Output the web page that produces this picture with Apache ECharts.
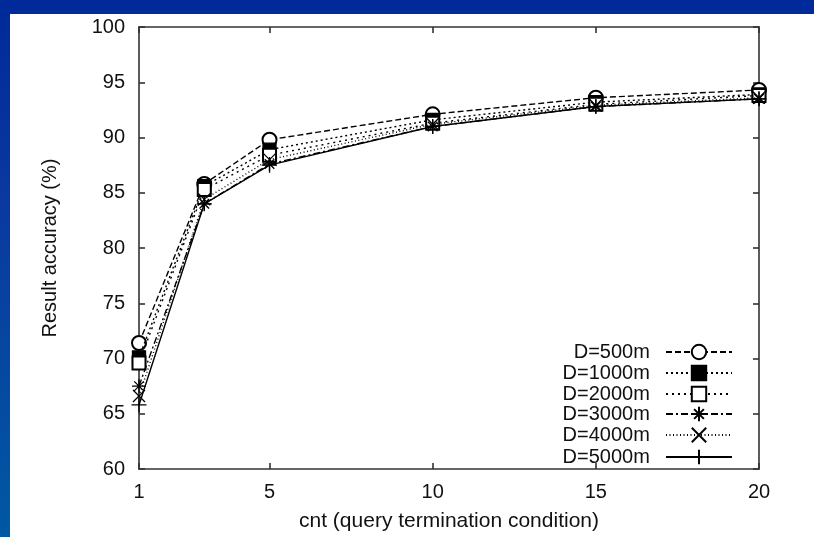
<!DOCTYPE html>
<html>
<head>
<meta charset="utf-8">
<script src="https://cdn.jsdelivr.net/npm/echarts@6/dist/echarts.min.js"></script>
<style>
  html, body { margin: 0; padding: 0; }
  body {
    width: 814px; height: 537px; overflow: hidden; position: relative;
    background: linear-gradient(180deg, #00299a 0%, #0a3aa0 40%, #0058a2 100%);
  }
  #sheet { position: absolute; left: 10px; top: 14px; right: 0; bottom: 0; background: #fff; }
  #chart { position: absolute; left: 0; top: 0; width: 814px; height: 537px; }
</style>
</head>
<body>
<div id="sheet"></div>
<div id="chart"></div>
<script>
// cnt values and accuracy (%) per distance D
const cnt = [1, 3, 5, 10, 15, 20];
const d500 = [71.4, 85.8, 89.8, 92.1, 93.6, 94.3];
const d1000 = [70.1, 85.6, 88.9, 91.6, 93.2, 93.9];
const d2000 = [69.6, 85.3, 88.4, 91.3, 93.0, 93.8];
const d3000 = [67.5, 84.0, 87.6, 91.0, 92.8, 93.5];
const d4000 = [66.6, 84.4, 88.0, 91.2, 92.9, 93.6];
const d5000 = [65.8, 84.0, 87.5, 91.0, 92.8, 93.5];

const xTicks = [1, 5, 10, 15, 20];
const yTicks = [60, 65, 70, 75, 80, 85, 90, 95, 100];
const names = ['D=500m', 'D=1000m', 'D=2000m', 'D=3000m', 'D=4000m', 'D=5000m'];

const font = 'Liberation Sans, Arial, Helvetica, sans-serif';
const ASTER = 'path://M5 0L5 10M0 5L10 5M1.6 1.6L8.4 8.4M8.4 1.6L1.6 8.4';
const CROSS = 'path://M0 0L10 10M10 0L0 10';
const PLUS = 'path://M5 0L5 10M0 5L10 5';

const styles = [
  { data: d500, symbol: 'emptyCircle', size: 14, dash: [6, 3] },
  { data: d1000, symbol: 'rect', size: 13, dash: [2, 3] },
  { data: d2000, symbol: 'emptyRect', size: 13, dash: [2, 4] },
  { data: d3000, symbol: ASTER, size: 14, dash: [7, 3, 2, 3] },
  { data: d4000, symbol: CROSS, size: 12, dash: [1, 2.5] },
  { data: d5000, symbol: PLUS, size: 15, dash: 'solid' }
];

const series = styles.map((s, i) => ({
  name: names[i],
  type: 'line',
  data: cnt.map((c, j) => [c, s.data[j]]),
  symbol: s.symbol,
  symbolSize: s.size,
  showAllSymbol: true,
  animation: false,
  z: 2 + i,
  lineStyle: { color: '#000', width: 1.4, type: s.dash },
  itemStyle: { color: '#000', borderColor: '#000', borderWidth: 1.3 }
}));

const rowTop = [342, 363, 384, 404, 425, 447];
const legends = names.map((n, i) => ({
  data: [n],
  orient: 'vertical',
  right: 81,
  top: rowTop[i],
  padding: 0,
  align: 'right',
  itemWidth: 66,
  itemHeight: 18,
  selectedMode: false,
  formatter: name => name + '  ',
  textStyle: { fontFamily: font, fontSize: 20, color: '#111' }
}));

const axisLineStyle = { color: '#333', width: 1.6 };

const chart = echarts.init(document.getElementById('chart'), null, { renderer: 'canvas' });
chart.setOption({
  animation: false,
  backgroundColor: 'transparent',
  grid: { left: 139, right: 55, top: 27, bottom: 65 },
  legend: legends,
  xAxis: [
    {
      type: 'value', min: 1, max: 20, position: 'bottom',
      name: 'cnt (query termination condition)', nameLocation: 'middle', nameGap: 42,
      nameTextStyle: { fontFamily: font, fontSize: 21, color: '#111' },
      axisLine: { show: true, lineStyle: axisLineStyle },
      axisTick: { show: true, inside: true, length: 6, customValues: xTicks, lineStyle: axisLineStyle },
      axisLabel: { customValues: xTicks, margin: 13, fontFamily: font, fontSize: 20, color: '#111' },
      splitLine: { show: false }
    },
    {
      type: 'value', min: 1, max: 20, position: 'top',
      axisLine: { show: true, lineStyle: axisLineStyle },
      axisTick: { show: true, inside: true, length: 6, customValues: xTicks, lineStyle: axisLineStyle },
      axisLabel: { show: false },
      splitLine: { show: false }
    }
  ],
  yAxis: [
    {
      type: 'value', min: 60, max: 100, interval: 5, position: 'left',
      name: 'Result accuracy (%)', nameLocation: 'middle', nameGap: 79,
      nameTextStyle: { fontFamily: font, fontSize: 20, color: '#111' },
      axisLine: { show: true, lineStyle: axisLineStyle },
      axisTick: { show: true, inside: true, length: 6, customValues: yTicks, lineStyle: axisLineStyle },
      axisLabel: { customValues: yTicks, margin: 14, fontFamily: font, fontSize: 20, color: '#111' },
      splitLine: { show: false }
    },
    {
      type: 'value', min: 60, max: 100, interval: 5, position: 'right',
      axisLine: { show: true, lineStyle: axisLineStyle },
      axisTick: { show: true, inside: true, length: 6, customValues: yTicks, lineStyle: axisLineStyle },
      axisLabel: { show: false },
      splitLine: { show: false }
    }
  ],
  series: series
});
</script>
</body>
</html>
